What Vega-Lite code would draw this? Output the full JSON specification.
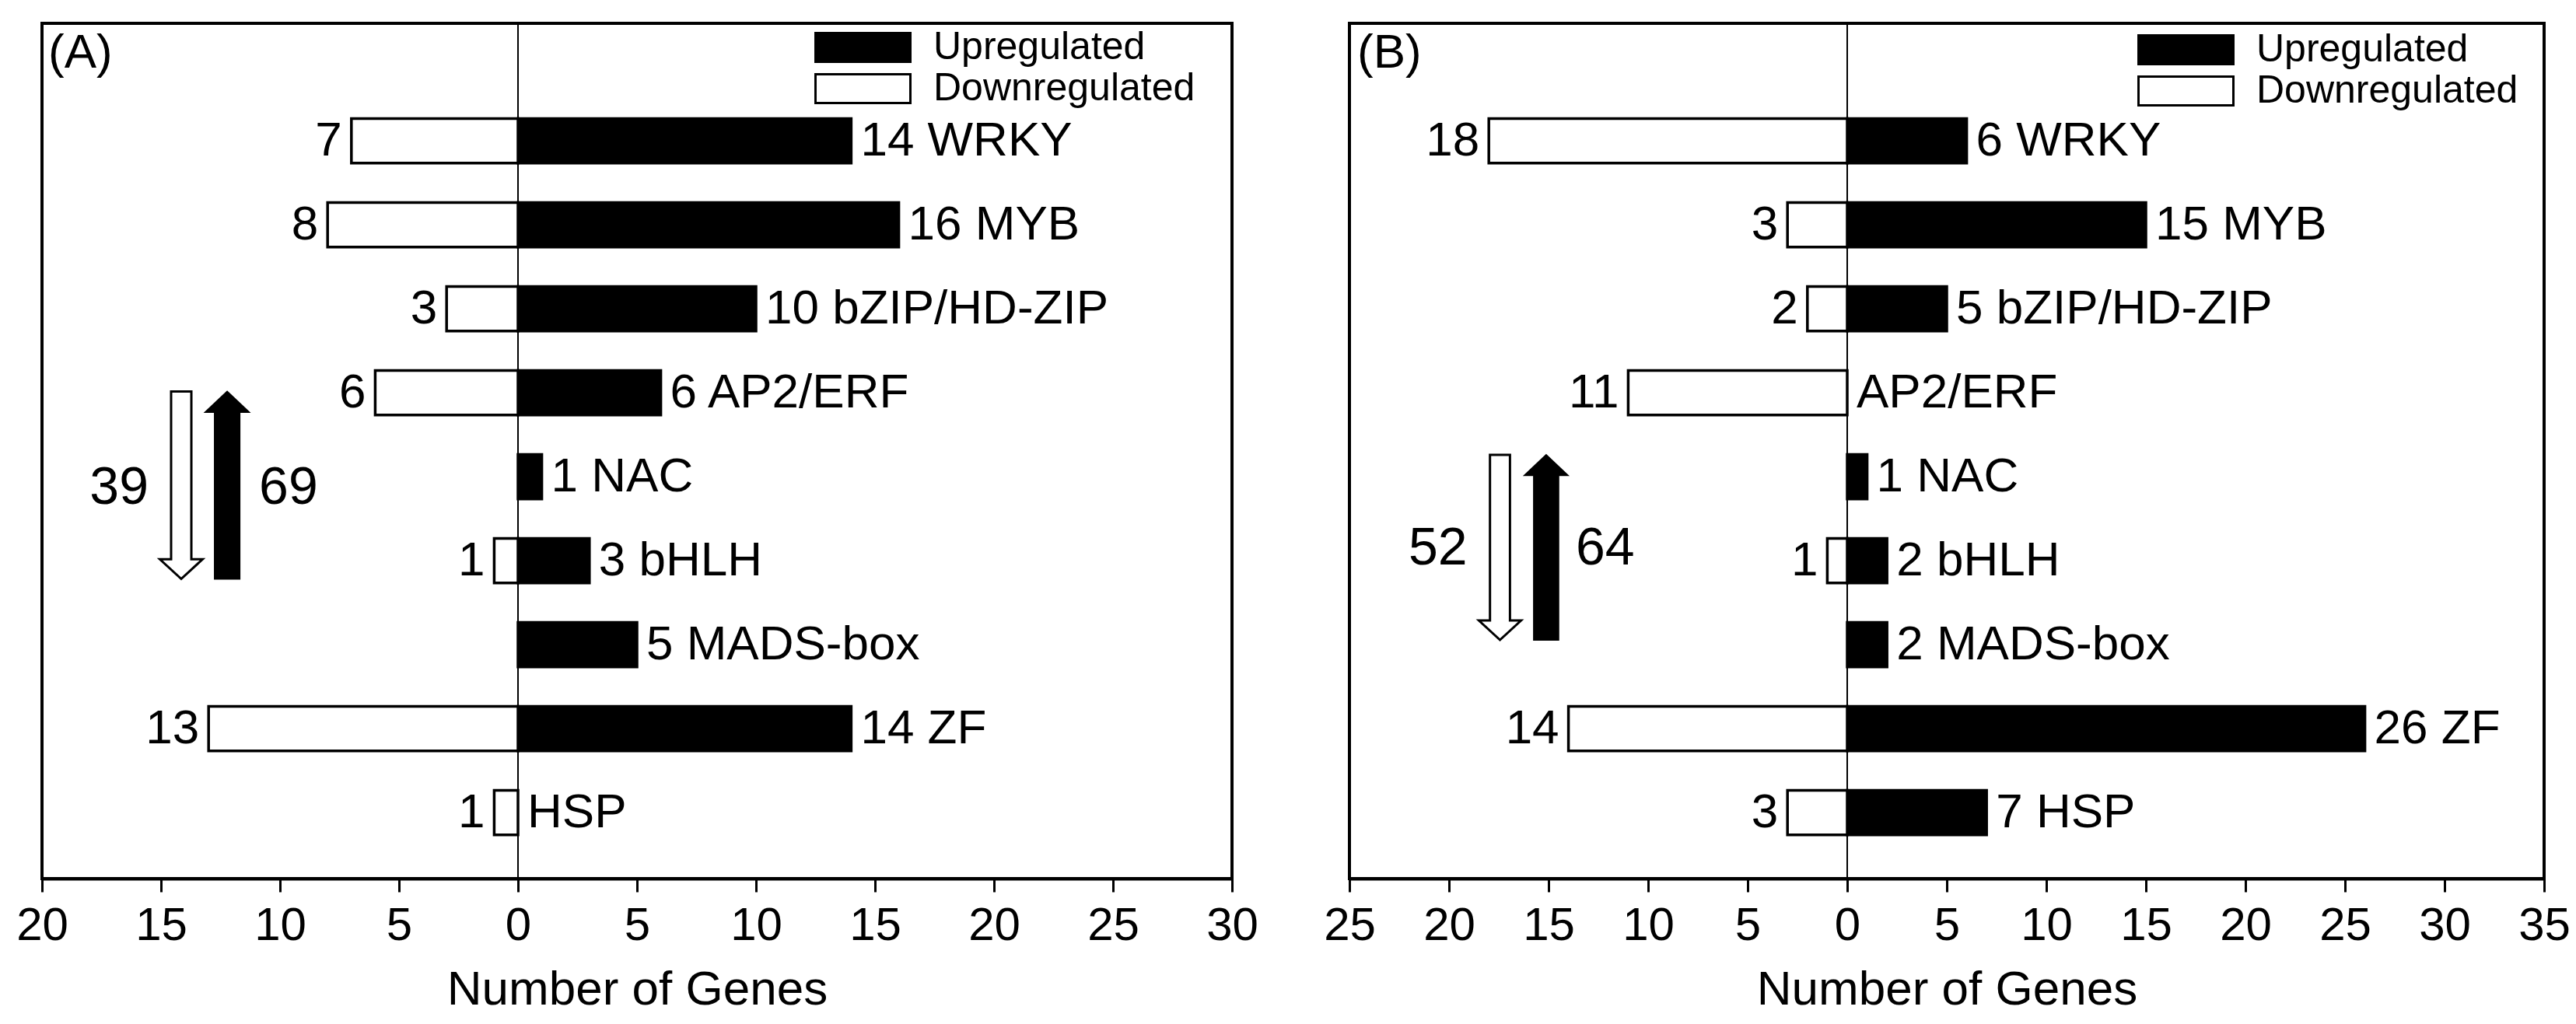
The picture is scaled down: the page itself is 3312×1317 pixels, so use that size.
{
  "$schema": "https://vega.github.io/schema/vega-lite/v6.json",
  "background": "white",
  "padding": {"left": 18, "top": 27, "right": 5, "bottom": 5},
  "spacing": 79,
  "datasets": {
    "genes": [
      {"panel": "A", "family": "WRKY", "reg": "Upregulated", "genes": 14},
      {"panel": "A", "family": "WRKY", "reg": "Downregulated", "genes": -7},
      {"panel": "A", "family": "MYB", "reg": "Upregulated", "genes": 16},
      {"panel": "A", "family": "MYB", "reg": "Downregulated", "genes": -8},
      {"panel": "A", "family": "bZIP/HD-ZIP", "reg": "Upregulated", "genes": 10},
      {"panel": "A", "family": "bZIP/HD-ZIP", "reg": "Downregulated", "genes": -3},
      {"panel": "A", "family": "AP2/ERF", "reg": "Upregulated", "genes": 6},
      {"panel": "A", "family": "AP2/ERF", "reg": "Downregulated", "genes": -6},
      {"panel": "A", "family": "NAC", "reg": "Upregulated", "genes": 1},
      {"panel": "A", "family": "NAC", "reg": "Downregulated", "genes": 0},
      {"panel": "A", "family": "bHLH", "reg": "Upregulated", "genes": 3},
      {"panel": "A", "family": "bHLH", "reg": "Downregulated", "genes": -1},
      {"panel": "A", "family": "MADS-box", "reg": "Upregulated", "genes": 5},
      {"panel": "A", "family": "MADS-box", "reg": "Downregulated", "genes": 0},
      {"panel": "A", "family": "ZF", "reg": "Upregulated", "genes": 14},
      {"panel": "A", "family": "ZF", "reg": "Downregulated", "genes": -13},
      {"panel": "A", "family": "HSP", "reg": "Upregulated", "genes": 0},
      {"panel": "A", "family": "HSP", "reg": "Downregulated", "genes": -1},
      {"panel": "B", "family": "WRKY", "reg": "Upregulated", "genes": 6},
      {"panel": "B", "family": "WRKY", "reg": "Downregulated", "genes": -18},
      {"panel": "B", "family": "MYB", "reg": "Upregulated", "genes": 15},
      {"panel": "B", "family": "MYB", "reg": "Downregulated", "genes": -3},
      {"panel": "B", "family": "bZIP/HD-ZIP", "reg": "Upregulated", "genes": 5},
      {"panel": "B", "family": "bZIP/HD-ZIP", "reg": "Downregulated", "genes": -2},
      {"panel": "B", "family": "AP2/ERF", "reg": "Upregulated", "genes": 0},
      {"panel": "B", "family": "AP2/ERF", "reg": "Downregulated", "genes": -11},
      {"panel": "B", "family": "NAC", "reg": "Upregulated", "genes": 1},
      {"panel": "B", "family": "NAC", "reg": "Downregulated", "genes": 0},
      {"panel": "B", "family": "bHLH", "reg": "Upregulated", "genes": 2},
      {"panel": "B", "family": "bHLH", "reg": "Downregulated", "genes": -1},
      {"panel": "B", "family": "MADS-box", "reg": "Upregulated", "genes": 2},
      {"panel": "B", "family": "MADS-box", "reg": "Downregulated", "genes": 0},
      {"panel": "B", "family": "ZF", "reg": "Upregulated", "genes": 26},
      {"panel": "B", "family": "ZF", "reg": "Downregulated", "genes": -14},
      {"panel": "B", "family": "HSP", "reg": "Upregulated", "genes": 7},
      {"panel": "B", "family": "HSP", "reg": "Downregulated", "genes": -3}
    ],
    "totals": [
      {"panel": "A", "reg": "Downregulated", "total": 39},
      {"panel": "A", "reg": "Upregulated", "total": 69},
      {"panel": "B", "reg": "Downregulated", "total": 52},
      {"panel": "B", "reg": "Upregulated", "total": 64}
    ]
  },
  "hconcat": [
    {
      "width": 1530,
      "height": 1100,
      "title": {"text": "(A)", "anchor": "start", "orient": "top", "frame": "group", "offset": -71, "dx": 8, "fontSize": 62, "fontWeight": "normal", "font": "Liberation Sans", "color": "black"},
      "layer": [
        {
          "data": {"name": "genes"},
          "transform": [{"filter": "datum.panel == 'A' && datum.genes != 0"}],
          "mark": {"type": "bar", "stroke": "black", "strokeWidth": 3.5},
          "encoding": {
            "x": {"field": "genes", "type": "quantitative", "stack": null,
              "scale": {"domain": [-20, 30], "nice": false},
              "axis": {"title": "Number of Genes", "values": [-20, -15, -10, -5, 0, 5, 10, 15, 20, 25, 30], "labelExpr": "abs(datum.value)"}},
            "y": {"field": "family", "type": "nominal",
              "scale": {"domain": ["WRKY", "MYB", "bZIP/HD-ZIP", "AP2/ERF", "NAC", "bHLH", "MADS-box", "ZF", "HSP"], "paddingInner": 0.47, "paddingOuter": 0.8275, "align": 0.685},
              "axis": null},
            "fill": {"field": "reg", "type": "nominal",
              "scale": {"domain": ["Upregulated", "Downregulated"], "range": ["black", "white"]},
              "legend": {"title": null, "orient": "none", "legendX": 993, "legendY": 6, "padding": 0,
                "symbolType": "M-1,-0.303L1,-0.303L1,0.303L-1,0.303Z", "symbolSize": 14884,
                "symbolStrokeWidth": 3, "symbolStrokeColor": "black", "clipHeight": 50, "rowPadding": 3,
                "labelFontSize": 50, "labelFont": "Liberation Sans", "labelColor": "black", "labelOffset": 28, "labelLimit": 0}}
          }
        },
        {
          "data": {"values": [{}]},
          "mark": {"type": "rule", "color": "black", "strokeWidth": 2},
          "encoding": {"x": {"datum": 0, "type": "quantitative"}}
        },
        {
          "data": {"name": "genes"},
          "transform": [
            {"filter": "datum.panel == 'A' && datum.reg == 'Downregulated' && datum.genes != 0"},
            {"calculate": "abs(datum.genes)", "as": "n"}
          ],
          "mark": {"type": "text", "align": "right", "baseline": "middle", "dx": -12, "fontSize": 62, "font": "Liberation Sans", "color": "black"},
          "encoding": {
            "x": {"field": "genes", "type": "quantitative"},
            "y": {"field": "family", "type": "nominal"},
            "text": {"field": "n"}
          }
        },
        {
          "data": {"name": "genes"},
          "transform": [
            {"filter": "datum.panel == 'A' && datum.reg == 'Upregulated'"},
            {"calculate": "(datum.genes > 0 ? datum.genes + ' ' : '\u00a0') + datum.family", "as": "lab"}
          ],
          "mark": {"type": "text", "align": "left", "baseline": "middle", "dx": 12, "fontSize": 62, "font": "Liberation Sans", "color": "black"},
          "encoding": {
            "x": {"field": "genes", "type": "quantitative"},
            "y": {"field": "family", "type": "nominal"},
            "text": {"field": "lab"}
          }
        },
        {
          "data": {"name": "totals"},
          "transform": [{"filter": "datum.panel == 'A' && datum.reg == 'Downregulated'"}],
          "mark": {"type": "point", "shape": "M-0.108,-1L0.108,-1L0.108,0.79L0.228,0.79L0,1L-0.228,0.79L-0.108,0.79Z", "size": 58081, "filled": true, "fill": "white", "stroke": "black", "strokeWidth": 3, "opacity": 1, "yOffset": 11},
          "encoding": {"x": {"datum": -14.15, "type": "quantitative"}, "y": {"datum": "NAC", "type": "nominal"}}
        },
        {
          "data": {"name": "totals"},
          "transform": [{"filter": "datum.panel == 'A' && datum.reg == 'Downregulated'"}],
          "mark": {"type": "text", "align": "right", "baseline": "middle", "dx": -42, "yOffset": 15, "fontSize": 68, "font": "Liberation Sans", "color": "black"},
          "encoding": {"x": {"datum": -14.15, "type": "quantitative"}, "y": {"datum": "NAC", "type": "nominal"}, "text": {"field": "total"}}
        },
        {
          "data": {"name": "totals"},
          "transform": [{"filter": "datum.panel == 'A' && datum.reg == 'Upregulated'"}],
          "mark": {"type": "point", "shape": "M-0.133,1L0.133,1L0.133,-0.78L0.232,-0.78L0,-1L-0.232,-0.78L-0.133,-0.78Z", "size": 58081, "filled": true, "fill": "black", "stroke": "black", "strokeWidth": 2, "opacity": 1, "yOffset": 11},
          "encoding": {"x": {"datum": -12.22, "type": "quantitative"}, "y": {"datum": "NAC", "type": "nominal"}}
        },
        {
          "data": {"name": "totals"},
          "transform": [{"filter": "datum.panel == 'A' && datum.reg == 'Upregulated'"}],
          "mark": {"type": "text", "align": "left", "baseline": "middle", "dx": 41, "yOffset": 15, "fontSize": 68, "font": "Liberation Sans", "color": "black"},
          "encoding": {"x": {"datum": -12.22, "type": "quantitative"}, "y": {"datum": "NAC", "type": "nominal"}, "text": {"field": "total"}}
        }
      ]
    },
    {
      "width": 1536,
      "height": 1100,
      "title": {"text": "(B)", "anchor": "start", "orient": "top", "frame": "group", "offset": -71, "dx": 10, "fontSize": 62, "fontWeight": "normal", "font": "Liberation Sans", "color": "black"},
      "layer": [
        {
          "data": {"name": "genes"},
          "transform": [{"filter": "datum.panel == 'B' && datum.genes != 0"}],
          "mark": {"type": "bar", "stroke": "black", "strokeWidth": 3.5},
          "encoding": {
            "x": {"field": "genes", "type": "quantitative", "stack": null,
              "scale": {"domain": [-25, 35], "nice": false},
              "axis": {"title": "Number of Genes", "values": [-25, -20, -15, -10, -5, 0, 5, 10, 15, 20, 25, 30, 35], "labelExpr": "abs(datum.value)"}},
            "y": {"field": "family", "type": "nominal",
              "scale": {"domain": ["WRKY", "MYB", "bZIP/HD-ZIP", "AP2/ERF", "NAC", "bHLH", "MADS-box", "ZF", "HSP"], "paddingInner": 0.47, "paddingOuter": 0.8275, "align": 0.685},
              "axis": null},
            "fill": {"field": "reg", "type": "nominal",
              "scale": {"domain": ["Upregulated", "Downregulated"], "range": ["black", "white"]},
              "legend": {"title": null, "orient": "none", "legendX": 1013, "legendY": 9, "padding": 0,
                "symbolType": "M-1,-0.303L1,-0.303L1,0.303L-1,0.303Z", "symbolSize": 14884,
                "symbolStrokeWidth": 3, "symbolStrokeColor": "black", "clipHeight": 50, "rowPadding": 3,
                "labelFontSize": 50, "labelFont": "Liberation Sans", "labelColor": "black", "labelOffset": 28, "labelLimit": 0}}
          }
        },
        {
          "data": {"values": [{}]},
          "mark": {"type": "rule", "color": "black", "strokeWidth": 2},
          "encoding": {"x": {"datum": 0, "type": "quantitative"}}
        },
        {
          "data": {"name": "genes"},
          "transform": [
            {"filter": "datum.panel == 'B' && datum.reg == 'Downregulated' && datum.genes != 0"},
            {"calculate": "abs(datum.genes)", "as": "n"}
          ],
          "mark": {"type": "text", "align": "right", "baseline": "middle", "dx": -12, "fontSize": 62, "font": "Liberation Sans", "color": "black"},
          "encoding": {
            "x": {"field": "genes", "type": "quantitative"},
            "y": {"field": "family", "type": "nominal"},
            "text": {"field": "n"}
          }
        },
        {
          "data": {"name": "genes"},
          "transform": [
            {"filter": "datum.panel == 'B' && datum.reg == 'Upregulated'"},
            {"calculate": "(datum.genes > 0 ? datum.genes + ' ' : '\u00a0') + datum.family", "as": "lab"}
          ],
          "mark": {"type": "text", "align": "left", "baseline": "middle", "dx": 12, "fontSize": 62, "font": "Liberation Sans", "color": "black"},
          "encoding": {
            "x": {"field": "genes", "type": "quantitative"},
            "y": {"field": "family", "type": "nominal"},
            "text": {"field": "lab"}
          }
        },
        {
          "data": {"name": "totals"},
          "transform": [{"filter": "datum.panel == 'B' && datum.reg == 'Downregulated'"}],
          "mark": {"type": "point", "shape": "M-0.108,-1L0.108,-1L0.108,0.79L0.228,0.79L0,1L-0.228,0.79L-0.108,0.79Z", "size": 56644, "filled": true, "fill": "white", "stroke": "black", "strokeWidth": 3, "opacity": 1, "yOffset": -17},
          "encoding": {"x": {"datum": -17.44, "type": "quantitative"}, "y": {"datum": "bHLH", "type": "nominal"}}
        },
        {
          "data": {"name": "totals"},
          "transform": [{"filter": "datum.panel == 'B' && datum.reg == 'Downregulated'"}],
          "mark": {"type": "text", "align": "right", "baseline": "middle", "dx": -42, "yOffset": -15, "fontSize": 68, "font": "Liberation Sans", "color": "black"},
          "encoding": {"x": {"datum": -17.44, "type": "quantitative"}, "y": {"datum": "bHLH", "type": "nominal"}, "text": {"field": "total"}}
        },
        {
          "data": {"name": "totals"},
          "transform": [{"filter": "datum.panel == 'B' && datum.reg == 'Upregulated'"}],
          "mark": {"type": "point", "shape": "M-0.133,1L0.133,1L0.133,-0.78L0.232,-0.78L0,-1L-0.232,-0.78L-0.133,-0.78Z", "size": 56644, "filled": true, "fill": "black", "stroke": "black", "strokeWidth": 2, "opacity": 1, "yOffset": -17},
          "encoding": {"x": {"datum": -15.12, "type": "quantitative"}, "y": {"datum": "bHLH", "type": "nominal"}}
        },
        {
          "data": {"name": "totals"},
          "transform": [{"filter": "datum.panel == 'B' && datum.reg == 'Upregulated'"}],
          "mark": {"type": "text", "align": "left", "baseline": "middle", "dx": 38, "yOffset": -15, "fontSize": 68, "font": "Liberation Sans", "color": "black"},
          "encoding": {"x": {"datum": -15.12, "type": "quantitative"}, "y": {"datum": "bHLH", "type": "nominal"}, "text": {"field": "total"}}
        }
      ]
    }
  ],
  "resolve": {"scale": {"fill": "independent"}, "legend": {"fill": "independent"}},
  "config": {
    "font": "Liberation Sans",
    "view": {"stroke": "black", "strokeWidth": 4},
    "axisX": {
      "grid": false,
      "domainColor": "black", "domainWidth": 4,
      "tickColor": "black", "tickWidth": 3, "tickSize": 17,
      "labelFont": "Liberation Sans", "labelFontSize": 60, "labelColor": "black", "labelPadding": 14,
      "labelFlush": false, "labelOverlap": false,
      "titleFont": "Liberation Sans", "titleFontSize": 62, "titleFontWeight": "normal", "titleColor": "black", "titlePadding": 22
    }
  }
}
